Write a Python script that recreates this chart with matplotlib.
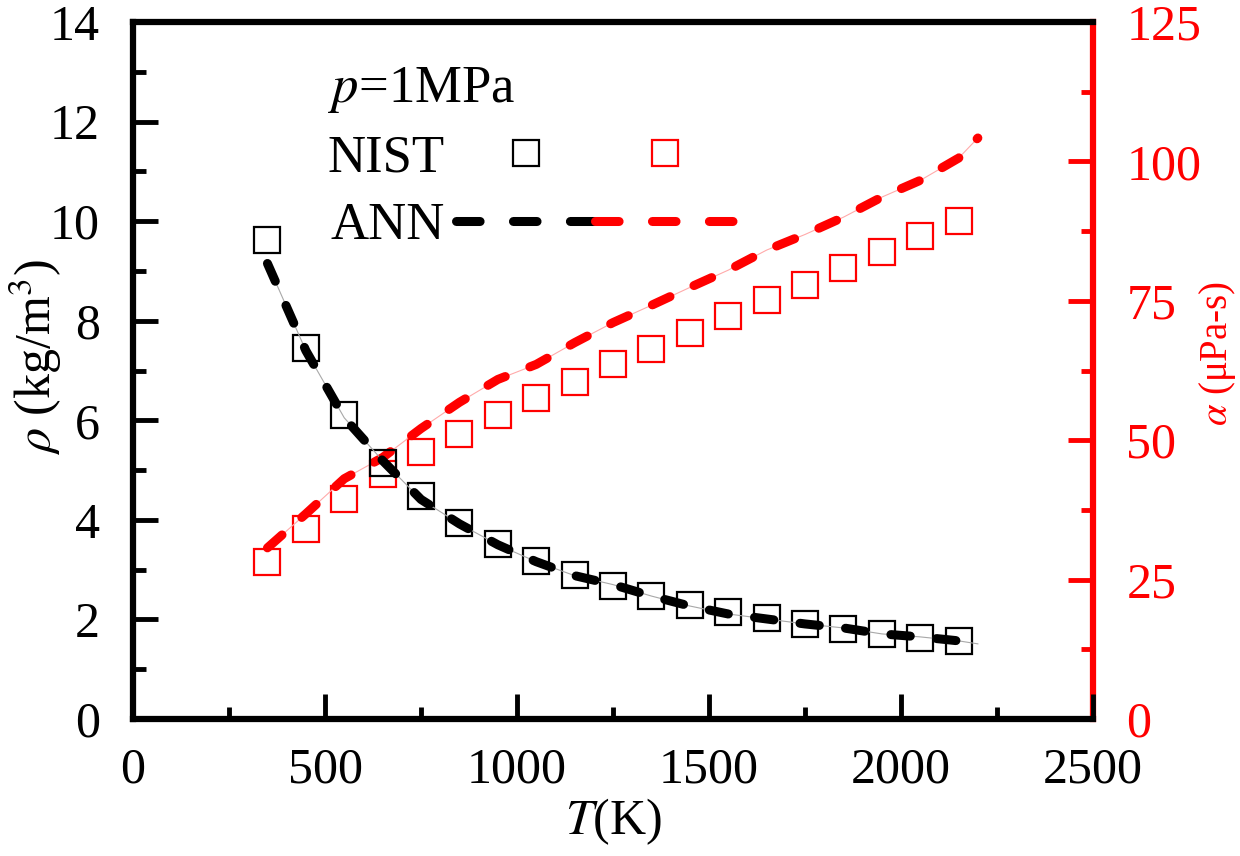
import matplotlib
matplotlib.use("Agg")
import matplotlib.pyplot as plt
from matplotlib.lines import Line2D
from matplotlib.legend_handler import HandlerTuple
from matplotlib.ticker import MultipleLocator

plt.rcParams["font.family"] = ["Liberation Serif", "DejaVu Serif"]
plt.rcParams["mathtext.fontset"] = "stix"
plt.rcParams["lines.scale_dashes"] = False

# NIST reference data
T_nist = [350, 450, 550, 650, 750, 850, 950, 1050, 1150, 1250,
          1350, 1450, 1550, 1650, 1750, 1850, 1950, 2050, 2150]
rho_nist = [9.62, 7.46, 6.10, 5.15, 4.47, 3.94, 3.52, 3.18, 2.90, 2.67,
            2.47, 2.30, 2.15, 2.03, 1.91, 1.81, 1.71, 1.63, 1.57]
alpha_nist = [28.2, 34.1, 39.4, 43.9, 47.8, 51.2, 54.5, 57.5, 60.5, 63.6,
              66.4, 69.3, 72.2, 75.2, 77.9, 80.8, 83.7, 86.6, 89.4]

# ANN prediction
T_ann = [350, 450, 550, 650, 750, 850, 950, 1050, 1150, 1250,
         1350, 1450, 1550, 1650, 1750, 1850, 1950, 2050, 2150, 2200]
rho_ann = [9.15, 7.40, 6.05, 5.19, 4.41, 3.92, 3.50, 3.16, 2.88, 2.70,
           2.47, 2.27, 2.11, 2.01, 1.91, 1.83, 1.71, 1.65, 1.57, 1.51]
alpha_ann = [30.7, 36.8, 43.1, 46.9, 52.1, 56.8, 60.9, 63.6, 67.5, 71.1,
             74.2, 77.4, 80.5, 84.1, 86.9, 90.0, 93.6, 96.6, 100.6, 104.2]

RED = "#ff0000"
fs = 36

fig = plt.figure(figsize=(12.4, 8.56), dpi=100)
ax = fig.add_axes([0.1073, 0.1600, 0.7742, 0.8143])
ax2 = ax.twinx()

ax.set_zorder(ax2.get_zorder() + 1)
ax.patch.set_visible(False)

# Squares (NIST)
sq = dict(marker="s", linestyle="none", markersize=19, markeredgewidth=1.6,
          markerfacecolor="none")
nb, = ax.plot(T_nist, rho_nist, color="black", **sq)
nr, = ax2.plot(T_nist, alpha_nist, color=RED, **sq)

# ANN: thin guide line + thick dashes
ax.plot(T_ann, rho_ann, color="#a8a8a8", lw=0.8)
ax2.plot(T_ann, alpha_ann, color="#ffaaaa", lw=0.8)
dash = dict(lw=6.5, dashes=(14, 19), dash_capstyle="round")
ax.plot(T_ann, rho_ann, color="black", **dash)
ax2.plot(T_ann, alpha_ann, color=RED, **dash)

# Axes ranges and ticks
ax.set_xlim(0, 2500)
ax.set_ylim(0, 14)
ax2.set_ylim(0, 125)
ax.xaxis.set_major_locator(MultipleLocator(500))
ax.xaxis.set_minor_locator(MultipleLocator(250))
ax.yaxis.set_major_locator(MultipleLocator(2))
ax.yaxis.set_minor_locator(MultipleLocator(1))
ax2.yaxis.set_major_locator(MultipleLocator(25))
ax2.yaxis.set_minor_locator(MultipleLocator(12.5))

for a in (ax, ax2):
    for s in a.spines.values():
        s.set_linewidth(4.5)
ax.spines["right"].set_visible(False)
ax2.spines["left"].set_visible(False)
ax2.spines["top"].set_visible(False)
ax2.spines["bottom"].set_visible(False)
ax2.spines["right"].set_color(RED)

ax.tick_params(which="both", direction="in", width=3.5, labelsize=fs,
               top=False, right=False)
ax.tick_params(which="major", length=18)
ax.tick_params(which="minor", length=9)
ax.tick_params(axis="x", which="both", pad=20)
ax.tick_params(axis="y", which="both", pad=24)
ax2.tick_params(which="both", direction="in", width=3.5, labelsize=fs,
                colors=RED, pad=24)
ax2.tick_params(which="major", length=18)
ax2.tick_params(which="minor", length=9)

ax.set_xlabel(r"$T$(K)", fontsize=36, labelpad=2)
ax.set_ylabel(r"$\rho$ (kg/m$^3$)", fontsize=36)
ax.yaxis.set_label_coords(-0.072, 0.52)
ax2.set_ylabel(r"$\alpha$ (μPa-s)", fontsize=28, color=RED)
ax2.yaxis.set_label_coords(1.108, 0.525)

# Legend
lb = Line2D([], [], color="black", lw=6.5, dashes=(17, 24), dash_capstyle="round")
lr = Line2D([], [], color=RED, lw=6.5, dashes=(17, 24), dash_capstyle="round")
leg = ax.legend([(nb, nr), (lb, lr)], ["NIST", "ANN"],
                handler_map={tuple: HandlerTuple(ndivide=None, pad=0)},
                markerfirst=False, title=r"$p$=1MPa", title_fontsize=38,
                prop={"size": 38}, frameon=False, handlelength=5.3,
                handletextpad=0.2, labelspacing=0.37, borderpad=0,
                borderaxespad=0, loc="upper left",
                bbox_to_anchor=(0.203, 0.938), alignment="left")

fig.savefig("out.png", dpi=100)
